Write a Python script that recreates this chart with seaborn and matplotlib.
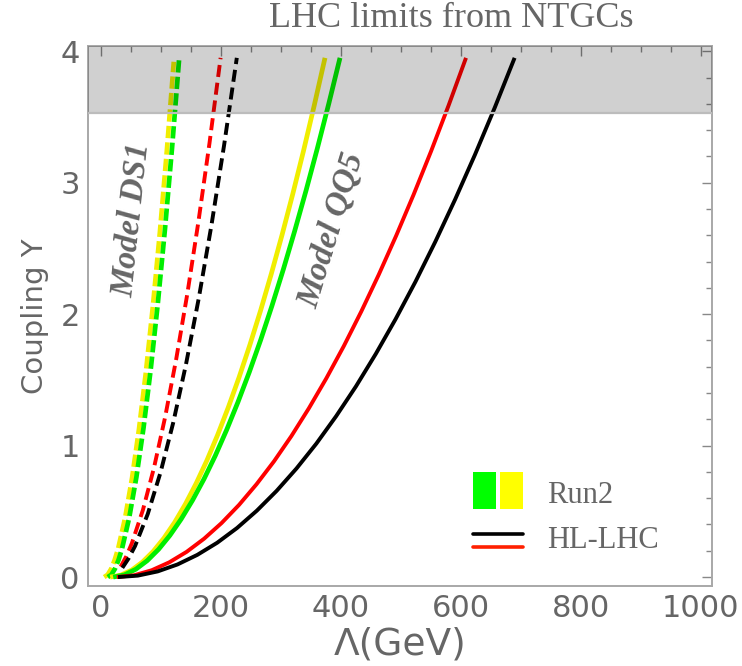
import numpy as np
import pandas as pd
import seaborn as sns
import matplotlib.pyplot as plt
from matplotlib.patches import Rectangle
from matplotlib.lines import Line2D
from matplotlib.ticker import MultipleLocator

# Values (Lambda in GeV, coupling Y)
# Model DS1 (dashed)
ds1_yellow_lam = [6, 11.8, 17.6, 23.4, 29.2, 40.8, 52.4, 64, 75.6, 87.2, 98.8, 110.4, 122]
ds1_yellow_y   = [0, 0.018, 0.062, 0.129, 0.216, 0.449, 0.753, 1.126, 1.563, 2.063, 2.623, 3.243, 3.92]
ds1_green_lam  = [12, 17.95, 23.9, 29.85, 35.8, 47.7, 59.6, 71.5, 83.4, 95.3, 107.2, 119.1, 131]
ds1_green_y    = [0, 0.018, 0.063, 0.130, 0.218, 0.452, 0.759, 1.134, 1.575, 2.079, 2.644, 3.267, 3.95]
ds1_red_lam    = [33.5, 42.75, 52, 70.5, 89, 107.5, 126, 144.5, 163, 181.5, 200]
ds1_red_y      = [0.079, 0.157, 0.256, 0.510, 0.832, 1.216, 1.658, 2.154, 2.703, 3.302, 3.95]
ds1_black_lam  = [36.2, 46.8, 57.4, 78.6, 99.8, 121, 142.2, 163.4, 184.6, 205.8, 227]
ds1_black_y    = [0.070, 0.143, 0.236, 0.480, 0.795, 1.174, 1.616, 2.116, 2.673, 3.285, 3.95]

# Model QQ5 (solid)
qq5_yellow_lam = [16, 33.9, 51.8, 69.7, 87.6, 105.5, 123.4, 141.3, 159.2, 177.1, 195, 212.9,
                  230.8, 248.7, 266.6, 284.5, 302.4, 320.3, 338.2, 356.1, 374]
qq5_yellow_y   = [0, 0.015, 0.053, 0.114, 0.195, 0.296, 0.416, 0.555, 0.712, 0.887, 1.081, 1.292,
                  1.520, 1.765, 2.027, 2.307, 2.603, 2.915, 3.243, 3.589, 3.95]
qq5_green_lam  = [21, 39.9, 58.8, 77.7, 96.6, 115.5, 134.4, 153.3, 172.2, 191.1, 210, 228.9,
                  247.8, 266.7, 285.6, 304.5, 323.4, 342.3, 361.2, 380.1, 399]
qq5_green_y    = [0, 0.017, 0.060, 0.125, 0.211, 0.317, 0.442, 0.585, 0.745, 0.923, 1.119, 1.331,
                  1.559, 1.803, 2.064, 2.340, 2.632, 2.939, 3.261, 3.598, 3.95]
qq5_red_lam    = [27, 56.1, 85.2, 114.3, 143.4, 172.5, 201.6, 230.7, 259.8, 288.9, 318, 347.1,
                  376.2, 405.3, 434.4, 463.5, 492.6, 521.7, 550.8, 579.9, 609]
qq5_red_y      = [0, 0.014, 0.052, 0.112, 0.192, 0.292, 0.411, 0.549, 0.706, 0.880, 1.073, 1.284,
                  1.512, 1.757, 2.020, 2.300, 2.597, 2.910, 3.240, 3.587, 3.95]
qq5_black_lam  = [29, 62.05, 95.1, 128.15, 161.2, 194.25, 227.3, 260.35, 293.4, 326.45, 359.5, 392.55,
                  425.6, 458.65, 491.7, 524.75, 557.8, 590.85, 623.9, 656.95, 690]
qq5_black_y    = [0, 0.011, 0.043, 0.096, 0.169, 0.261, 0.373, 0.505, 0.656, 0.826, 1.015, 1.224,
                  1.451, 1.698, 1.963, 2.247, 2.551, 2.873, 3.213, 3.572, 3.95]

band_low = 3.53  # excluded region (gray band)

grey_txt = '#666666'
frame_col = '#a8a8a8'

sns.set_theme(style='white')
plt.rcParams['font.family'] = ['DejaVu Sans']

fig = plt.figure(figsize=(7.42, 6.66), dpi=100)
ax = fig.add_axes([0.1186, 0.1201, 0.841, 0.8108])

curves = [
    (ds1_yellow_lam, ds1_yellow_y, '#f0ee00', 3.4, (2.6, 0.9)),
    (ds1_green_lam, ds1_green_y, '#00ee00', 3.4, (2.6, 0.9)),
    (ds1_red_lam, ds1_red_y, '#ff0000', 2.8, (3.1, 1.5)),
    (ds1_black_lam, ds1_black_y, '#000000', 2.8, (3.1, 1.5)),
    (qq5_yellow_lam, qq5_yellow_y, '#f0ee00', 3.4, None),
    (qq5_green_lam, qq5_green_y, '#00ee00', 3.4, None),
    (qq5_red_lam, qq5_red_y, '#ff0000', 2.8, None),
    (qq5_black_lam, qq5_black_y, '#000000', 2.8, None),
]

for lam, yy, col, lw, dash in curves:
    df = pd.DataFrame({'lam': lam, 'y': yy})
    sns.lineplot(data=df, x='lam', y='y', ax=ax, color=col, linewidth=lw,
                 estimator=None, sort=False)
    ax.lines[-1].set_solid_capstyle('butt')
    ax.lines[-1].set_solid_joinstyle('round')
    if dash is not None:
        ax.lines[-1].set_dashes(dash)

ax.set_xlim(-21, 1019)
ax.set_ylim(-0.068, 4.04)

# gray band on top of the curves
ax.axhspan(band_low, 4.04, color='black', alpha=0.185, lw=0, zorder=5)
ax.axhline(band_low, color='#bcbcbc', lw=1.6, zorder=6)

# frame and ticks
for sp in ax.spines.values():
    sp.set_color(frame_col)
    sp.set_linewidth(1.4)
ax.xaxis.set_major_locator(MultipleLocator(200))
ax.xaxis.set_minor_locator(MultipleLocator(50))
ax.yaxis.set_major_locator(MultipleLocator(1))
ax.yaxis.set_minor_locator(MultipleLocator(0.2))
ax.tick_params(which='both', direction='in', top=True, right=True,
               color='#888888', width=1.0, labelcolor=grey_txt, labelsize=22)
ax.tick_params(which='major', length=7, pad=6)
ax.tick_params(which='minor', length=4)
ax.set_xlabel('Λ(GeV)', fontsize=27, color=grey_txt, labelpad=2)
ax.set_ylabel('Coupling Y', fontsize=21, color=grey_txt, labelpad=8)

# model labels
ax.text(53, 2.72, 'Model DS1', rotation=84, ha='center', va='center',
        family='Liberation Serif', weight='bold', style='italic',
        fontsize=24, color=grey_txt)
ax.text(385, 2.64, 'Model QQ5', rotation=73, ha='center', va='center',
        family='Liberation Serif', weight='bold', style='italic',
        fontsize=24, color=grey_txt)

# legend
ax.add_patch(Rectangle((0.617, 0.1426), 0.0369, 0.0685, transform=ax.transAxes,
                       color='#00ff00', lw=0, zorder=7))
ax.add_patch(Rectangle((0.660, 0.1426), 0.0369, 0.0685, transform=ax.transAxes,
                       color='#ffff00', lw=0, zorder=7))
ax.add_line(Line2D([0.617, 0.697], [0.0963, 0.0963], transform=ax.transAxes,
                   color='black', lw=2.6, zorder=7))
ax.add_line(Line2D([0.617, 0.697], [0.0722, 0.0722], transform=ax.transAxes,
                   color='#ff2000', lw=2.6, zorder=7))
ax.text(0.7356, 0.1685, 'Run2', transform=ax.transAxes, ha='left', va='center',
        family='Liberation Serif', fontsize=22, color=grey_txt)
ax.text(0.7356, 0.0852, 'HL-LHC', transform=ax.transAxes, ha='left', va='center',
        family='Liberation Serif', fontsize=22, color=grey_txt)

fig.text(0.608, 0.972, 'LHC limits from NTGCs', ha='center', va='center',
         family='Liberation Serif', fontsize=26, color=grey_txt)

fig.savefig('out.png', dpi=100)
